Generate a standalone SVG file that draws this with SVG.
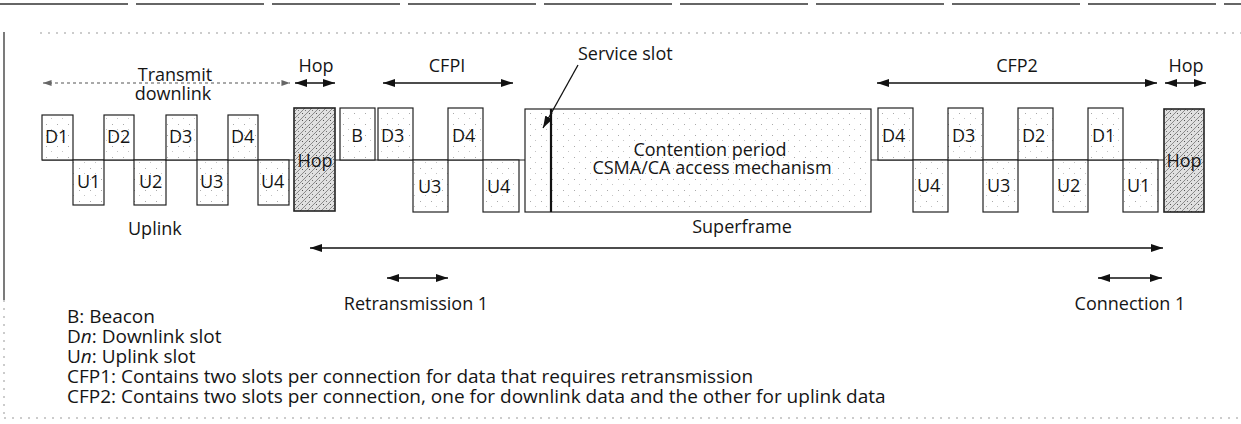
<svg xmlns="http://www.w3.org/2000/svg" width="1241" height="424" viewBox="0 0 1241 424">
<defs>
<style>
text{font-family:"Open Sans","Noto Sans",sans-serif;font-size:18px;fill:#151515}
.mid{text-anchor:middle}
.leg{font-size:19px}
.slot{fill:url(#stip);stroke:#222;stroke-width:1.2}
.hop{fill:url(#hatch);stroke:#222;stroke-width:1.6}
.arr{stroke:#111;stroke-width:1.3;fill:none;marker-start:url(#ah);marker-end:url(#ah)}
.arr1{stroke:#111;stroke-width:1.3;fill:none;marker-end:url(#ah)}
.dots{stroke:#555;stroke-width:1.2;fill:none;stroke-dasharray:3 3;marker-start:url(#ahg);marker-end:url(#ahg)}
.faint{stroke:#999;stroke-width:1;fill:none;stroke-dasharray:2 6}
</style>
<marker id="ah" viewBox="0 0 12 8" refX="12" refY="4" markerWidth="12" markerHeight="8" markerUnits="userSpaceOnUse" orient="auto-start-reverse"><path d="M0,0 L12,4 L0,8 z" fill="#111"/></marker>
<marker id="ahg" viewBox="0 0 10 7" refX="10" refY="3.5" markerWidth="9" markerHeight="6" markerUnits="userSpaceOnUse" orient="auto-start-reverse"><path d="M0,0 L10,3.5 L0,7 z" fill="#666"/></marker>
<pattern id="stip" width="11" height="11" patternUnits="userSpaceOnUse"><rect width="11" height="11" fill="#fff"/><rect x="2" y="3" width="1" height="1" fill="#aaa"/><rect x="7" y="8" width="1" height="1" fill="#c4c4c4"/></pattern>
<pattern id="hatch" width="7" height="7" patternUnits="userSpaceOnUse"><rect width="7" height="7" fill="#e0e0e0"/><path d="M0,7 L7,0" stroke="#8a8a8a" stroke-width="1"/><rect x="1" y="1" width="1" height="1" fill="#555"/><rect x="4" y="5" width="1" height="1" fill="#777"/></pattern>
</defs>

<g id="frame">
<line x1="0" y1="4" x2="1241" y2="4" stroke="#666" stroke-width="2" stroke-dasharray="128 8"/>
<line x1="40" y1="33" x2="1241" y2="33" class="faint"/>
<line x1="4" y1="32" x2="4" y2="300" stroke="#333" stroke-width="1.3"/>
<line x1="4" y1="300" x2="4" y2="418" class="faint"/>
<line x1="4" y1="418" x2="1241" y2="418" class="faint"/>
</g>

<g id="baseline">
<line x1="42" y1="160" x2="1164" y2="160" stroke="#222" stroke-width="1.2"/>
</g>

<g id="downlink-slots">
<g id="tD1"><rect class="slot" x="42" y="115" width="31" height="45"/><text x="45" y="143">D1</text></g>
<g id="tU1"><rect class="slot" x="73" y="160" width="31" height="45"/><text x="77" y="188">U1</text></g>
<g id="tD2"><rect class="slot" x="104" y="115" width="30" height="45"/><text x="107" y="143">D2</text></g>
<g id="tU2"><rect class="slot" x="134" y="160" width="32" height="45"/><text x="139" y="188">U2</text></g>
<g id="tD3"><rect class="slot" x="166" y="115" width="31" height="45"/><text x="169" y="143">D3</text></g>
<g id="tU3"><rect class="slot" x="197" y="160" width="31" height="45"/><text x="200" y="188">U3</text></g>
<g id="tD4"><rect class="slot" x="228" y="115" width="30" height="45"/><text x="231" y="143">D4</text></g>
<g id="tU4"><rect class="slot" x="258" y="160" width="31" height="45"/><text x="261" y="188">U4</text></g>
</g>

<g id="hop-left"><rect class="hop" x="294" y="108" width="41" height="103"/><text class="mid" x="315" y="167">Hop</text></g>

<g id="beacon"><rect class="slot" x="340" y="108" width="35" height="52"/><text class="mid" x="357" y="142">B</text></g>

<g id="cfp1">
<g id="c1D3"><rect class="slot" x="378" y="108" width="35" height="52"/><text x="381" y="142">D3</text></g>
<g id="c1U3"><rect class="slot" x="413" y="160" width="35" height="52"/><text x="418" y="193">U3</text></g>
<g id="c1D4"><rect class="slot" x="448" y="108" width="35" height="52"/><text x="452" y="142">D4</text></g>
<g id="c1U4"><rect class="slot" x="483" y="160" width="36" height="52"/><text x="487" y="193">U4</text></g>
</g>

<g id="contention">
<rect class="slot" x="525" y="109" width="346" height="103"/>
<line x1="551" y1="109" x2="551" y2="212" stroke="#111" stroke-width="2.2"/>
<text class="mid" x="710" y="156">Contention period</text>
<text class="mid" x="712" y="174">CSMA/CA access mechanism</text>
</g>

<g id="cfp2">
<g id="c2D4"><rect class="slot" x="878" y="108" width="35" height="52"/><text x="882" y="142">D4</text></g>
<g id="c2U4"><rect class="slot" x="913" y="160" width="35" height="52"/><text x="917" y="192">U4</text></g>
<g id="c2D3"><rect class="slot" x="948" y="108" width="35" height="52"/><text x="952" y="142">D3</text></g>
<g id="c2U3"><rect class="slot" x="983" y="160" width="35" height="52"/><text x="987" y="192">U3</text></g>
<g id="c2D2"><rect class="slot" x="1018" y="108" width="35" height="52"/><text x="1022" y="142">D2</text></g>
<g id="c2U2"><rect class="slot" x="1053" y="160" width="35" height="52"/><text x="1057" y="192">U2</text></g>
<g id="c2D1"><rect class="slot" x="1088" y="108" width="35" height="52"/><text x="1092" y="142">D1</text></g>
<g id="c2U1"><rect class="slot" x="1123" y="160" width="35" height="52"/><text x="1127" y="192">U1</text></g>
</g>

<g id="hop-right"><rect class="hop" x="1164" y="109" width="40" height="103"/><text class="mid" x="1184" y="167">Hop</text></g>

<g id="connectors">
<line class="dots" x1="43" y1="83" x2="290" y2="83"/>
<line class="arr" x1="295" y1="83" x2="335" y2="83"/>
<line class="arr" x1="383" y1="83" x2="513" y2="83"/>
<line class="arr" x1="877" y1="83" x2="1157" y2="83"/>
<line class="arr" x1="1165" y1="83" x2="1206" y2="83"/>
<line class="arr1" x1="578" y1="65" x2="543" y2="128"/>
<line class="arr" x1="310" y1="248" x2="1163" y2="248"/>
<line class="arr" x1="387" y1="278" x2="448" y2="278"/>
<line class="arr" x1="1098" y1="278" x2="1162" y2="278"/>
</g>

<g id="labels">
<text class="mid" x="175" y="81">Transmit</text>
<text class="mid" x="173" y="100">downlink</text>
<text class="mid" x="316" y="72">Hop</text>
<text class="mid" x="447" y="72">CFPI</text>
<text x="578" y="60">Service slot</text>
<text class="mid" x="1017" y="72">CFP2</text>
<text class="mid" x="1186" y="72">Hop</text>
<text x="128" y="235">Uplink</text>
<text class="mid" x="742" y="233">Superframe</text>
<text class="mid" x="416" y="310">Retransmission 1</text>
<text class="mid" x="1130" y="310">Connection 1</text>
</g>

<g id="legend">
<text class="leg" x="67" y="323">B: Beacon</text>
<text class="leg" x="67" y="343">D<tspan font-style="italic">n</tspan>: Downlink slot</text>
<text class="leg" x="67" y="363">U<tspan font-style="italic">n</tspan>: Uplink slot</text>
<text class="leg" x="67" y="383">CFP1: Contains two slots per connection for data that requires retransmission</text>
<text class="leg" x="67" y="403">CFP2: Contains two slots per connection, one for downlink data and the other for uplink data</text>
</g>
</svg>
